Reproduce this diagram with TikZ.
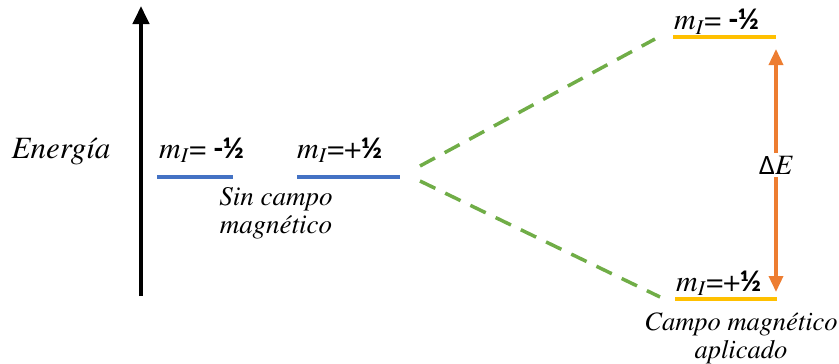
\documentclass[tikz,border=0pt]{standalone}
\usepackage[T1,TU]{fontenc}
\usepackage{fontspec}
\newfontfamily\calib{Carlito}
\newcommand{\tmsf}{\fontencoding{T1}\fontfamily{ptm}\selectfont}
\usetikzlibrary{arrows.meta}
\definecolor{levelblue}{HTML}{4472C4}
\definecolor{levelgold}{HTML}{FFC000}
\definecolor{splitgreen}{HTML}{70AD47}
\definecolor{gaporange}{HTML}{ED7D31}
\newcommand{\mIeq}{\textit{m}\textsubscript{\textit{I}}=}
\newcommand{\halfb}[1]{{\calib\bfseries #1½}}

\begin{document}
\begin{tikzpicture}[x=1pt, y=-1pt, >=Triangle, font=\tmsf\fontsize{30}{32}\selectfont]
\useasboundingbox (0,0) rectangle (839,364);
% energy axis
\coordinate (ebot) at (141,296);
\coordinate (etop) at (141,6);
\draw[-{Triangle[width=16pt,length=18pt]}, line width=4pt] (ebot) -- (etop);
\node[font=\tmsf\fontsize{31}{33}\selectfont\itshape] (energy) at (61,152) {Energ\'{\i}a};
% levels without field
\coordinate (b1l) at (157,177); \coordinate (b1r) at (233,177);
\coordinate (b2l) at (297,177); \coordinate (b2r) at (400,177);
\draw[levelblue, line width=4pt] (b1l) -- (b1r);
\draw[levelblue, line width=4pt] (b2l) -- (b2r);
\node[anchor=base west, inner sep=0pt] (m1) at (159,158) {\mIeq\ \halfb{-}};
\node[anchor=base west, inner sep=0pt] (m2) at (297,158) {\mIeq+\halfb{}};
\node[align=center, font=\tmsf\fontsize{27}{28}\selectfont\itshape] (nofield) at (276,213) {Sin campo\\magn\'etico};
% levels with field
\coordinate (y1l) at (673,37); \coordinate (y1r) at (776,37);
\coordinate (y2l) at (675,299); \coordinate (y2r) at (777,299);
\draw[levelgold, line width=4pt] (y1l) -- (y1r);
\draw[levelgold, line width=4pt] (y2l) -- (y2r);
\node[anchor=base west, inner sep=0pt] (m3) at (674,30) {\mIeq\ \halfb{-}};
\node[anchor=base west, inner sep=0pt] (m4) at (676,291) {\mIeq+\halfb{}};
\node[align=center, font=\tmsf\fontsize{26.5}{28}\selectfont\itshape] (field) at (741,338) {Campo magn\'etico\\aplicado};
% splitting
\coordinate (s1) at (420,166); \coordinate (s2) at (420,181);
\coordinate (u1) at (655,39); \coordinate (d1) at (660,297);
\draw[splitgreen, line width=3.5pt, dash pattern=on 17pt off 11pt] (s1) -- (u1);
\draw[splitgreen, line width=3.5pt, dash pattern=on 17pt off 11pt] (s2) -- (d1);
% gap
\coordinate (gtop) at (776,49); \coordinate (gbot) at (776,292);
\draw[{Triangle[width=14pt,length=16pt]}-{Triangle[width=14pt,length=16pt]}, gaporange, line width=3.5pt] (gtop) -- (gbot);
\node[fill=white, inner sep=3pt, font=\tmsf\fontsize{28}{30}\selectfont] (dE) at (776,165) {{\calib Δ}\textit{E}};
\end{tikzpicture}
\end{document}
